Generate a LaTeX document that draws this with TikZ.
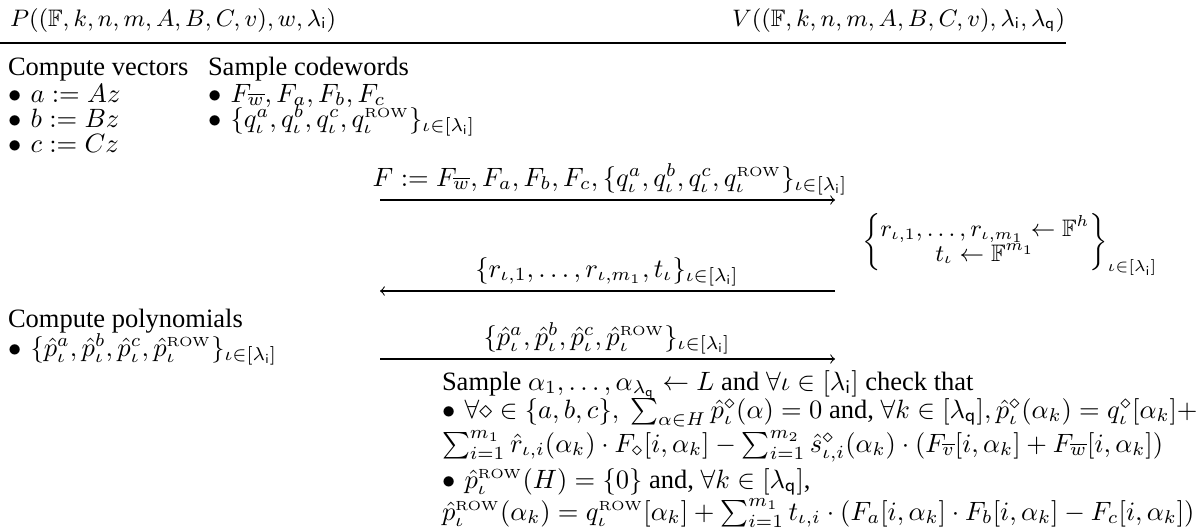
\documentclass[tikz,border=0pt]{standalone}
\usepackage{amsmath,amssymb}
\usepackage[no-math]{fontspec}
\setmainfont{Liberation Serif}
\newcommand\lami{\lambda_{\mathsf{i}}}
\newcommand\lamq{\lambda_{\mathsf{q}}}
\newcommand\RW{\mathrm{\scriptscriptstyle ROW}}
\newcommand\bul{$\bullet$\hspace{3.5pt}}
\begin{document}
\begin{tikzpicture}[x=0.3774pt,y=-0.3774pt,
  txt/.style={anchor=base west,inner sep=0pt,outer sep=0pt},
  lbl/.style={anchor=base,inner sep=0pt,outer sep=0pt},
  head/.style={anchor=base west,inner sep=0pt,outer sep=0pt,font=\small},
  msgarrow/.style={->,line width=0.4pt},
  rulestyle/.style={line width=1.1pt}]
\useasboundingbox (0,0) rectangle (1202,531);
% headers
\node[head] (P) at (10,26) {$P((\mathbb{F},k,n,m,A,B,C,v),w,\lami)$};
\node[head] (V) at (732,26) {$V((\mathbb{F},k,n,m,A,B,C,v),\lami,\lamq)$};
\coordinate (ruleL) at (0,43);
\coordinate (ruleR) at (1066,43);
\draw[rulestyle] (ruleL) -- (ruleR);
% prover, first block
\node[txt] (cv) at (8,75) {Compute vectors};
\node[txt] (ca) at (8,102) {\bul$a := Az$};
\node[txt] (cb) at (8,127) {\bul$b := Bz$};
\node[txt] (cc) at (8,152) {\bul$c := Cz$};
\node[txt] (sc) at (208,75) {Sample codewords};
\node[txt] (s1) at (208,102) {\bul$F_{\overline{w}},F_a,F_b,F_c$};
\node[txt] (s2) at (208,127) {\bul$\{q^a_\iota,q^b_\iota,q^c_\iota,q^{\RW}_\iota\}_{\iota\in[\lami]}$};
% message 1
\coordinate (m1L) at (380,200);
\coordinate (m1R) at (835,200);
\draw[msgarrow] (m1L) -- (m1R);
\node[lbl] (m1) at (610,186) {$F := F_{\overline{w}},F_a,F_b,F_c,\{q^a_\iota,q^b_\iota,q^c_\iota,q^{\RW}_\iota\}_{\iota\in[\lami]}$};
% verifier sampling
\node[txt,font=\small] (vs) at (862,248) {$\biggl\{\renewcommand\arraystretch{0.82}\begin{matrix} r_{\iota,1},\ldots,r_{\iota,m_1}\leftarrow\mathbb{F}^h\\ t_\iota\leftarrow\mathbb{F}^{m_1}\end{matrix}\biggr\}_{\iota\in[\lami]}$};
% message 2
\coordinate (m2L) at (380,291);
\coordinate (m2R) at (835,291);
\draw[msgarrow] (m2R) -- (m2L);
\node[lbl] (m2) at (607,277) {$\{r_{\iota,1},\ldots,r_{\iota,m_1},t_\iota\}_{\iota\in[\lami]}$};
% prover polynomials
\node[txt] (cp) at (8,327) {Compute polynomials};
\node[txt] (pp) at (8,356) {\bul$\{\hat{p}^a_\iota,\hat{p}^b_\iota,\hat{p}^c_\iota,\hat{p}^{\RW}_\iota\}_{\iota\in[\lami]}$};
% message 3
\coordinate (m3L) at (380,359);
\coordinate (m3R) at (835,359);
\draw[msgarrow] (m3L) -- (m3R);
\node[lbl] (m3) at (607,345) {$\{\hat{p}^a_\iota,\hat{p}^b_\iota,\hat{p}^c_\iota,\hat{p}^{\RW}_\iota\}_{\iota\in[\lami]}$};
% verifier checks
\node[txt] (v1) at (442,390) {Sample $\alpha_1,\ldots,\alpha_{\lamq}\leftarrow L$ and $\forall\iota\in[\lami]$ check that};
\node[txt] (v2) at (442,418) {\bul$\forall\diamond\in\{a,b,c\},\ \sum_{\alpha\in H}\hat{p}^\diamond_\iota(\alpha)=0$ and, $\forall k\in[\lamq],\hat{p}^\diamond_\iota(\alpha_k)=q^\diamond_\iota[\alpha_k]+$};
\node[txt] (v3) at (442,452) {$\sum_{i=1}^{m_1}\hat{r}_{\iota,i}(\alpha_k)\cdot F_\diamond[i,\alpha_k]-\sum_{i=1}^{m_2}\hat{s}^\diamond_{\iota,i}(\alpha_k)\cdot(F_{\overline{v}}[i,\alpha_k]+F_{\overline{w}}[i,\alpha_k])$};
\node[txt] (v4) at (442,488) {\bul$\hat{p}^{\RW}_\iota(H)=\{0\}$ and, $\forall k\in[\lamq]$,};
\node[txt] (v5) at (442,520) {$\hat{p}^{\RW}_\iota(\alpha_k)=q^{\RW}_\iota[\alpha_k]+\sum_{i=1}^{m_1}t_{\iota,i}\cdot(F_a[i,\alpha_k]\cdot F_b[i,\alpha_k]-F_c[i,\alpha_k])$};
\end{tikzpicture}
\end{document}
